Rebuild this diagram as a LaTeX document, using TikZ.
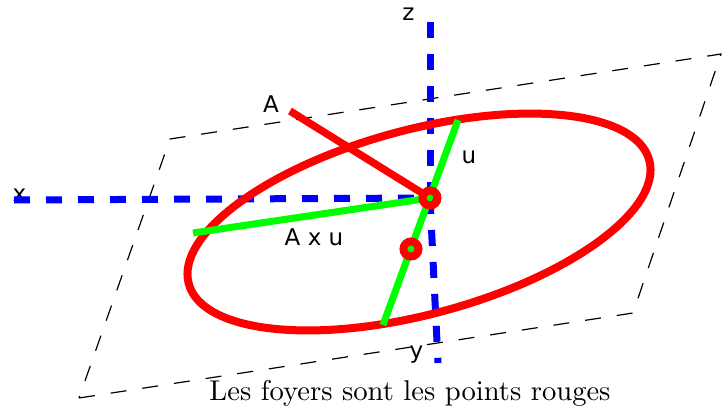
\documentclass[tikz,border=0pt]{standalone}
\usepackage{fontspec}
\usepackage{graphicx}
\newfontfamily\labfont{DejaVu Sans}
\begin{document}
\begin{tikzpicture}[x=1pt,y=-1pt,
  axis/.style={blue, line width=7pt, dash pattern=on 16pt off 16pt},
  plane/.style={black, line width=1.2pt, dash pattern=on 16pt off 16pt},
  redl/.style={red, line width=7.5pt},
  greenl/.style={green, line width=7pt},
  focus/.style={circle, draw=red, line width=8pt, minimum size=15pt, inner sep=0pt, outer sep=0pt},
  lab/.style={font=\labfont\fontsize{23}{27}\selectfont, inner sep=0pt, anchor=base}]
\useasboundingbox (0,0) rectangle (722,412);
% points
\coordinate (O) at (430,198);
\coordinate (Zt) at (430,20);
\coordinate (Xt) at (14,200);
\coordinate (Yt) at (438,363);
\coordinate (Ae) at (290,111);
\coordinate (U1) at (458,120);
\coordinate (U2) at (383,325);
\coordinate (AU) at (193,233);
\coordinate (F2) at (411,249);
\coordinate (E) at (419,222);
\coordinate (BL) at (79,398);
\coordinate (BR) at (633,313);
\coordinate (TR) at (721,54);
\coordinate (TL) at (170,139);
% x label (under the axis)
\node[lab] (xl) at (19.5,201) {x};
% plane
\draw[plane] (BL) -- (BR) -- (TR) -- (TL) -- cycle;
% axes
\draw[axis] (Xt) -- (O);
\draw[axis] (O) -- (Zt);
\draw[axis] (O) -- (Yt);
% ellipse
\draw[red, line width=8pt, rotate around={15:(E)}] (E) ellipse [x radius=238.4pt, y radius=92.3pt];
% vectors
\draw[redl] (Ae) -- (O);
\draw[greenl] (U2) -- (U1);
\draw[greenl] (O) -- (AU);
% foci
\node[focus] (f1) at (O) {};
\node[focus] (f2) at (F2) {};
% labels
\node[lab] (zl) at (408.5,21) {z};
\node[lab] (yl) at (416.5,358) {y};
\node[lab] (al) at (271,112) {A};
\node[lab] (ul) at (469,163) {u};
\node[lab] (axul) at (314,245) {A x u};
\node[anchor=base] (title) at (410,400) {\scalebox{2.86}{Les foyers sont les points rouges}};
\end{tikzpicture}
\end{document}
